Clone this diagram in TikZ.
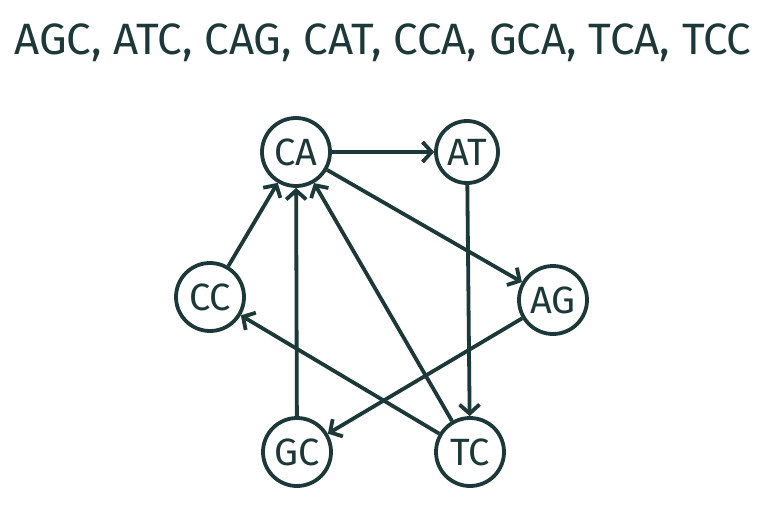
\documentclass[tikz,border=0pt]{standalone}
\usepackage{fontspec}
\setmainfont{Fira Sans}
\usetikzlibrary{arrows.meta}
\definecolor{ink}{HTML}{1D3838}
\tikzset{
  vert/.style={circle,draw=ink,line width=3.8pt,minimum size=68pt,inner sep=0pt,text=ink,font=\fontsize{38}{38}\selectfont},
  edge/.style={draw=ink,line width=3.8pt,-{Straight Barb[length=9pt,width=20pt]}}
}
\begin{document}
\begin{tikzpicture}[x=1pt,y=-1pt]
\useasboundingbox (0,0) rectangle (778,514);
\node[text=ink,anchor=center] (title) at (383,43) {\resizebox{737pt}{!}{AGC, ATC, CAG, CAT, CCA, GCA, TCA, TCC}};
\node[vert] (CA) at (296,152) {CA};
\node[vert,minimum size=62pt] (AT) at (467,152) {AT};
\node[vert] (CC) at (210,297) {CC};
\node[vert] (AG) at (553,300) {AG};
\node[vert] (GC) at (297,452) {GC};
\node[vert] (TC) at (470,452) {TC};
\draw[edge] (CA) -- (AT);
\draw[edge] (CA) -- (AG);
\draw[edge] (AT) -- (TC);
\draw[edge] (CC) -- (CA);
\draw[edge] (GC) -- (CA);
\draw[edge] (TC) -- (CA);
\draw[edge] (TC) -- (CC);
\draw[edge] (AG) -- (GC);
\end{tikzpicture}
\end{document}
